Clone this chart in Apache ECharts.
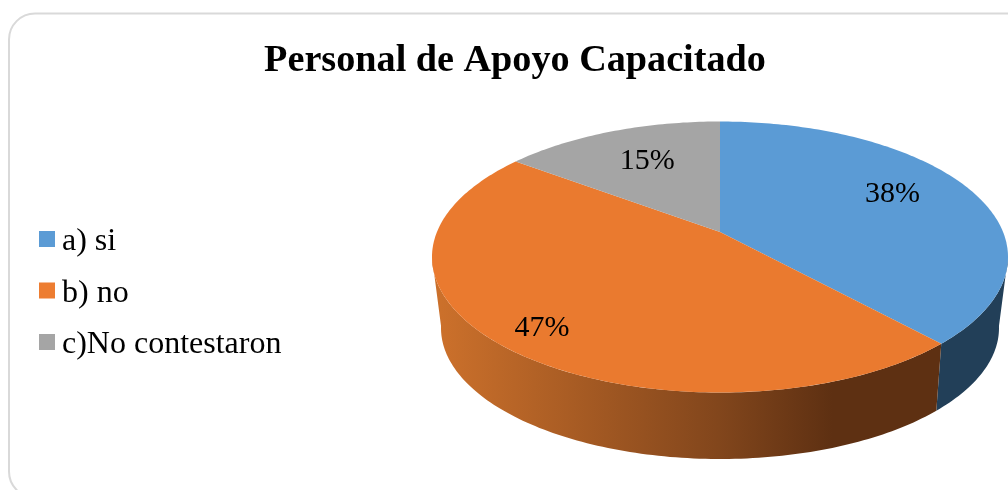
<!DOCTYPE html>
<html>
<head>
<meta charset="utf-8">
<style>html,body{margin:0;padding:0;background:#fff}#c{width:1008px;height:490px}</style>
<script src="https://cdn.jsdelivr.net/npm/echarts@6/dist/echarts.min.js"></script>
</head>
<body>
<div id="c"></div>
<script>
const chartTitle = 'Personal de Apoyo Capacitado';
const categories = ['a) si', 'b) no', 'c)No contestaron'];
const values = [38.2, 47, 14.8];

// Look and layout of the simulated 3D disc (not data)
const topColors = ['#5b9bd5', '#ea7a2f', '#a5a5a5'];
const legendColors = ['#5b9bd5', '#ed7d31', '#a5a5a5'];
const wallFills = [
  '#223f58',
  { type: 'linear', x: 441, y: 0, x2: 936, y2: 0, global: true, colorStops: [
    { offset: 0, color: '#cb702b' },
    { offset: 0.56, color: '#82461c' },
    { offset: 0.79, color: '#5e3012' },
    { offset: 1, color: '#5e3012' } ] },
  '#555555'
];
const labelNudge = [[-4, -6], [-31, 21], [7, 3]];
const CX = 720;
const topEllipse = { cy: 257, rx: 288, ry: 135.5, apex: -25 };
const bottomEllipse = { cy: 328, rx: 279, ry: 131, apex: -26 };
const total = values.reduce((a, b) => a + b, 0);
const DEG_PER_UNIT = 360 / total;

// Perspective projection of a unit circle point (angle clockwise from 12 o'clock)
function project(e, deg, r) {
  const a = deg * Math.PI / 180;
  const u = Math.sin(a) * r, v = -Math.cos(a) * r;
  const c = e.apex / e.ry;
  const w = 1 + c * v;
  return [CX + e.rx * Math.sqrt(1 - c * c) * u / w, e.cy + (e.ry * v + e.apex) / w];
}
function arc(e, from, to) {
  const pts = [], n = Math.max(1, Math.ceil(Math.abs(to - from)));
  for (let i = 0; i <= n; i++) pts.push(project(e, from + (to - from) * i / n, 1));
  return pts;
}
const wallFromDeg = 180 - Math.acos(-topEllipse.apex / topEllipse.ry) * 180 / Math.PI;
const wallToDeg = 360 - wallFromDeg;

function renderSlice(params, api) {
  const i = params.seriesIndex;
  const from = api.value(0) * DEG_PER_UNIT;
  const size = api.value(1);
  const to = from + size * DEG_PER_UNIT;
  const children = [];
  const a = Math.max(from, wallFromDeg), b = Math.min(to, wallToDeg);
  if (b > a) {
    children.push({
      type: 'polygon',
      shape: { points: arc(topEllipse, a, b).concat(arc(bottomEllipse, b, a)) },
      style: { fill: wallFills[i] }
    });
  }
  children.push({
    type: 'polygon',
    shape: { points: [project(topEllipse, 0, 0)].concat(arc(topEllipse, from, to)) },
    style: { fill: topColors[i] }
  });
  const p = project(topEllipse, (from + to) / 2, 0.7);
  children.push({
    type: 'text',
    z2: 10,
    style: {
      text: Math.round(size / total * 100) + '%',
      x: p[0] + labelNudge[i][0], y: p[1] + labelNudge[i][1],
      align: 'center', verticalAlign: 'middle',
      font: '30px "Liberation Serif"', fill: '#000'
    }
  });
  return { type: 'group', children };
}

let running = 0;
const series = categories.map((name, i) => {
  const start = running;
  running += values[i];
  return {
    type: 'custom',
    name,
    coordinateSystem: 'none',
    renderItem: renderSlice,
    silent: true,
    itemStyle: { color: legendColors[i] },
    data: [[start, values[i]]]
  };
});

const chart = echarts.init(document.getElementById('c'), null, { renderer: 'canvas' });
chart.setOption({
  animation: false,
  backgroundColor: '#fff',
  title: {
    text: chartTitle, left: 510, top: 37, textAlign: 'center',
    textStyle: { fontFamily: 'Liberation Serif', fontWeight: 'bold', fontSize: 38.2, color: '#000' }
  },
  legend: {
    orient: 'vertical', left: 39, top: 226, padding: 0, itemWidth: 16, itemHeight: 22, itemGap: 19.5,
    selectedMode: false,
    // a 16×16 square sitting at the top of a 16×22 icon box, so the text sits slightly below the square's centre
    icon: 'path://M0 0L16 0L16 16L0 16Z M0 22L0.01 22L0 22Z',
    textStyle: { fontFamily: 'Liberation Serif', fontSize: 32, color: '#000', padding: [0, 0, 0, 2] },
    data: categories
  },
  graphic: [{
    type: 'rect', z: -10, silent: true,
    shape: { x: 9, y: 13.5, width: 1200, height: 484, r: 26 },
    style: { fill: '#fff', stroke: '#d9d9d9', lineWidth: 2 }
  }],
  series
});
</script>
</body>
</html>
